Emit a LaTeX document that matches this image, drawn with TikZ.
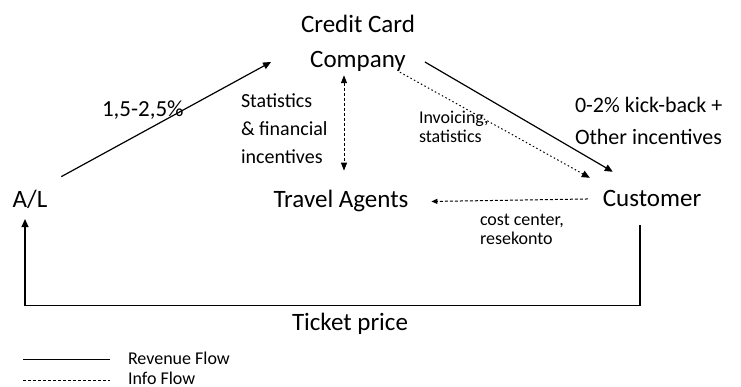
\documentclass[tikz,border=0pt]{standalone}
\usepackage{fontspec}
\setmainfont{Carlito}
\usetikzlibrary{arrows.meta}
\begin{document}
\begin{tikzpicture}[x=1pt,y=-1pt,
  every node/.style={inner sep=0pt,outer sep=0pt},
  big/.style={font=\fontsize{25}{35}\selectfont},
  mid/.style={font=\fontsize{20}{28}\selectfont,align=left},
  pcttext/.style={font=\fontsize{23}{28}\selectfont},
  kick/.style={font=\fontsize{22}{32}\selectfont,align=left},
  small/.style={font=\fontsize{18}{19}\selectfont,align=left},
  legendtext/.style={font=\fontsize{18}{20}\selectfont},
  revenue/.style={line width=1.2pt,-{Triangle[length=8pt,width=7pt]}},
  info/.style={line width=1pt,dash pattern=on 3pt off 2pt},
  invoice/.style={line width=1pt,dash pattern=on 1.5pt off 2.5pt}]
\useasboundingbox (0,0) rectangle (741,387);

% parties
\node[big,align=center] (ccc) at (358,43) {Credit Card\\Company};
\node[big,anchor=base] (al) at (30,208) {A/L};
\node[big,anchor=base] (ta) at (341,208) {Travel Agents};
\node[big,anchor=base] (cust) at (652,207) {Customer};

% flow labels
\node[pcttext,anchor=base west] (pct) at (102,117) {1,5-2,5\%};
\node[mid,anchor=west] (stat) at (241,129) {Statistics\\\& financial\\incentives};
\node[kick,anchor=west] (kb) at (575,121) {0-2\%  kick-back +\\Other incentives};
\node[small,anchor=west] (inv) at (419,127) {Invoicing,\\statistics};
\node[small,anchor=west] (cc) at (480,229) {cost center,\\resekonto};
\node[big,anchor=base] (tp) at (350,330) {Ticket price};

% revenue flows
\draw[revenue] ([xshift=14pt,yshift=14pt]al.north east) -- ([xshift=-30pt,yshift=-19pt]ccc.west);
\draw[revenue] ([xshift=10pt,yshift=-19pt]ccc.east) -- ([xshift=10pt,yshift=19pt]cust.north west);
\draw[revenue] ([xshift=-12pt,yshift=-18pt]cust.south) -- ++(0,80) -| ([xshift=-5pt,yshift=-10pt]al.south);

% info flows
\draw[invoice,-{Triangle[length=8pt,width=7pt]}] ([xshift=-15pt,yshift=-1pt]ccc.south east) -- ([xshift=-13pt,yshift=13pt]cust.north west);
\draw[info,{Triangle[length=8pt,width=6pt]}-{Triangle[length=8pt,width=6pt]}] ([xshift=-14pt,yshift=-4pt]ccc.south) -- ([xshift=3pt,yshift=20pt]ta.north);
\draw[info,-{Triangle[length=6pt,width=5pt]}] ([xshift=-15pt]cust.west) -- ([xshift=23pt]ta.east);

% legend
\coordinate (l1a) at (23,359);
\coordinate (l1b) at (110,359);
\coordinate (l2a) at (23,380);
\coordinate (l2b) at (110,380);
\draw[line width=1pt] (l1a) -- (l1b);
\draw[info] (l2a) -- (l2b);
\node[legendtext,anchor=base west] (lg1) at (128,364) {Revenue Flow};
\node[legendtext,anchor=base west] (lg2) at (128,384) {Info Flow};
\end{tikzpicture}
\end{document}
